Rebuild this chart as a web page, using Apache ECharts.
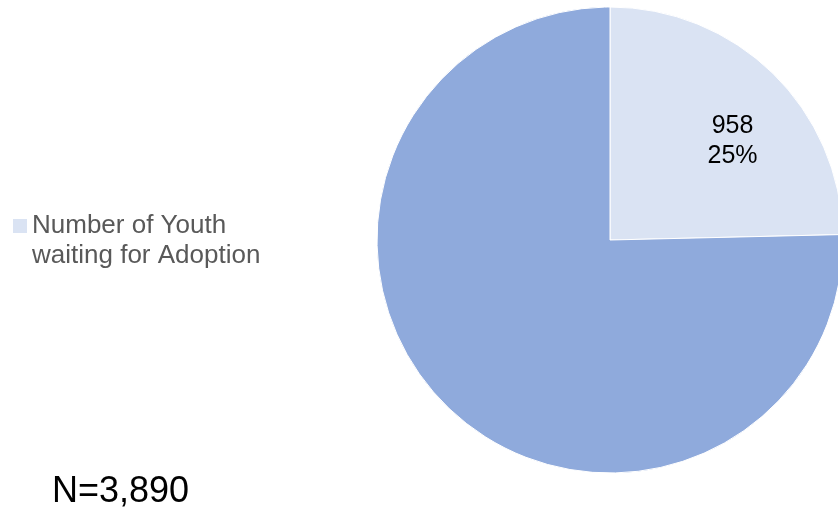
<!DOCTYPE html>
<html>
<head>
<meta charset="utf-8">
<title>Youth waiting for Adoption</title>
<script src="https://cdn.jsdelivr.net/npm/echarts@6/dist/echarts.min.js"></script>
<style>
    html, body { margin: 0; padding: 0; background: #ffffff; }
    #chart { width: 838px; height: 508px; }
</style>
</head>
<body>
<div id="chart"></div>
<script>
// slice names and values (N=3,890)
var sliceNames = ["Number of Youth waiting for Adoption", "Other Youth"];
var sliceValues = [958, 2932];
var sliceColors = ["#DAE3F3", "#8FAADC"];
var totalLabel = "N=3,890";

document.addEventListener("DOMContentLoaded", function () {
    var chartDom = document.getElementById("chart");
    var myChart = echarts.init(chartDom, null, { renderer: "canvas" });

    var pieData = sliceNames.map(function (name, i) {
        return {
            name: name,
            value: sliceValues[i],
            itemStyle: { color: sliceColors[i] },
            label: { show: i === 0 }
        };
    });

    var option = {
        animation: false,
        textStyle: { fontFamily: "Liberation Sans, Arial, sans-serif" },
        title: {
            text: totalLabel,
            left: 52,
            top: 472,
            padding: 0,
            textStyle: {
                color: "#000000",
                fontSize: 36,
                fontWeight: "normal",
                lineHeight: 40
            }
        },
        legend: {
            data: [sliceNames[0]],
            orient: "vertical",
            left: 13,
            top: 181,
            padding: 0,
            itemWidth: 14,
            itemHeight: 14,
            icon: "rect",
            itemStyle: { borderWidth: 0 },
            // blank first line keeps the icon level with the first text line
            formatter: function () {
                return "{a| }\n{a|Number of Youth}\n{a|waiting for Adoption}";
            },
            textStyle: {
                color: "#595959",
                fontSize: 26,
                lineHeight: 30,
                rich: {
                    a: { color: "#595959", fontSize: 26, lineHeight: 30 }
                }
            }
        },
        series: [
            {
                type: "pie",
                center: [610, 240],
                radius: 233,
                startAngle: 90,
                clockwise: true,
                legendHoverLink: false,
                itemStyle: { borderColor: "#ffffff", borderWidth: 1 },
                label: {
                    position: "inside",
                    offset: [39, -13],
                    color: "#000000",
                    fontSize: 25,
                    lineHeight: 30,
                    formatter: function (params) {
                        return params.value + "\n" + Math.round(params.percent) + "%";
                    }
                },
                labelLine: { show: false },
                emphasis: { disabled: true },
                data: pieData
            }
        ]
    };

    myChart.setOption(option);
});
</script>
</body>
</html>
